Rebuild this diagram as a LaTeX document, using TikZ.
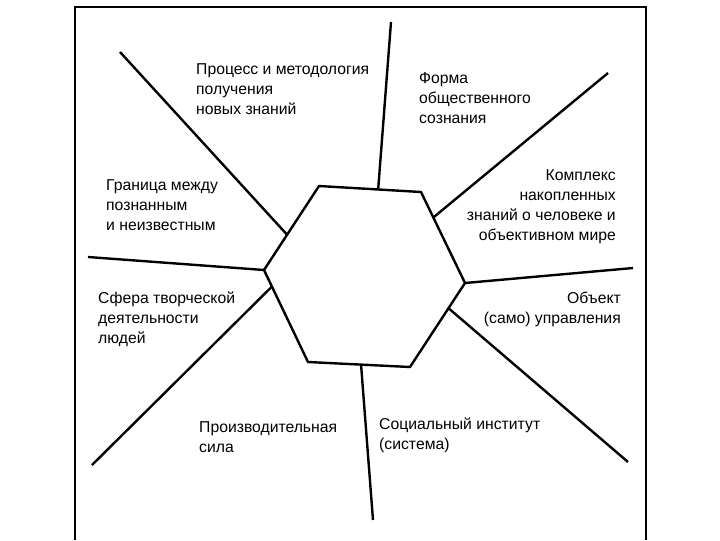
\documentclass[tikz,border=0pt]{standalone}
\usepackage{fontspec}
\setmainfont{Liberation Sans}
\usetikzlibrary{calc}
\tikzset{every picture/.style={line width=1.8pt}}
\tikzset{lbl/.style={inner sep=0pt,font=\fontsize{11.8}{15}\selectfont}}

\begin{document}
\begin{tikzpicture}[x=0.75pt,y=0.75pt,yscale=-1,xscale=1]
\useasboundingbox (0,0) rectangle (720,540);
%Frame
\draw [line width=1.2pt] (75,540) -- (75,7) -- (646,7) -- (646,540) ;
%Hexagon corners
\coordinate (h1) at (319,186);
\coordinate (h2) at (421,192);
\coordinate (h3) at (465,283);
\coordinate (h4) at (410,367);
\coordinate (h5) at (308,362);
\coordinate (h6) at (264,270);
\draw (h1) -- (h2) -- (h3) -- (h4) -- (h5) -- (h6) -- cycle ;
%Spokes: inner ends on the hexagon
\coordinate (s1) at ($(h1)!0.58!(h2)$);
\coordinate (s2) at ($(h2)!0.28!(h3)$);
\coordinate (s3) at (h3);
\coordinate (s4) at ($(h3)!0.3!(h4)$);
\coordinate (s5) at ($(h4)!0.48!(h5)$);
\coordinate (s6) at ($(h5)!0.82!(h6)$);
\coordinate (s7) at (h6);
\coordinate (s8) at ($(h6)!0.42!(h1)$);
%Spokes: outer ends
\coordinate (e1) at (391,22);
\coordinate (e2) at (608,73);
\coordinate (e3) at (633,268);
\coordinate (e4) at (628,462);
\coordinate (e5) at (373,520);
\coordinate (e6) at (92,465);
\coordinate (e7) at (88,257);
\coordinate (e8) at (120,52);
\foreach \i in {1,...,8}
  \draw (s\i) -- (e\i) ;

% Text Node
\node (process) [lbl,anchor=north west,align=left] at (195,62) {Процесс и методология\\получения\\новых знаний};
% Text Node
\node (forma) [lbl,anchor=north west,align=left] at (418,71) {Форма\\общественного\\сознания};
% Text Node
\node (kompleks) [lbl,anchor=north east,align=right] at (617,168) {Комплекс\\накопленных\\знаний о человеке и\\объективном мире};
% Text Node
\node (granitsa) [lbl,anchor=north west,align=left] at (105,178) {Граница между\\познанным\\и неизвестным};
% Text Node
\node (sfera) [lbl,anchor=north west,align=left] at (97,291) {Сфера творческой\\деятельности\\людей};
% Text Node
\node (obekt) [lbl,anchor=north east,align=right] at (622,291) {Объект\\(само) управления};
% Text Node
\node (sila) [lbl,anchor=north west,align=left] at (198,420) {Производительная\\сила};
% Text Node
\node (institut) [lbl,anchor=north west,align=left] at (378,417) {Социальный институт\\(система)};
\end{tikzpicture}
\end{document}
